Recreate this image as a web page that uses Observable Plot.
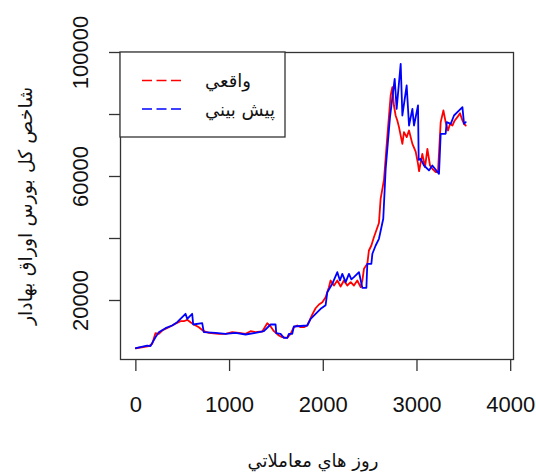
<!DOCTYPE html>
<html><head><meta charset="utf-8">
<script src="https://cdn.jsdelivr.net/npm/d3@7"></script>
<script src="https://cdn.jsdelivr.net/npm/@observablehq/plot@0.6"></script>
<style>
body{margin:0;background:#fff;}
svg{font-family:"Liberation Sans","DejaVu Sans",sans-serif;}
</style>
</head><body>
<div id="chart"></div>
<script>
// Actual (واقعي)
const actualDay = [0,138,174,209,245,281,352,423,476,512,548,583,619,672,725,779,885,957,1028,1099,1171,1224,1277,1349,1402,1438,1473,1526,1562,1616,1651,1686,1722,1758,1793,1829,1854,1883,1918,1954,1990,2025,2060,2078,2114,2150,2185,2220,2256,2292,2327,2363,2399,2417,2434,2470,2487,2513,2541,2559,2594,2612,2648,2684,2719,2737,2754,2772,2790,2808,2844,2861,2890,2915,2951,2986,3011,3022,3057,3086,3111,3139,3164,3200,3224,3253,3282,3306,3331,3353,3378,3403,3431,3459,3485,3502,3520];
const actualValue = [4600,5270,6030,9460,9250,10320,11390,12480,13320,13320,13770,13000,12260,11390,10100,9580,9250,9250,9780,9580,9250,10100,9780,10000,12680,11610,10100,8710,8160,7970,9250,11390,11940,11390,11390,11940,13550,15500,17500,18710,19460,21070,24300,26450,24840,26450,24520,26450,24840,25910,24840,26450,24300,26450,30230,31840,36130,37740,40500,42000,45000,52770,59000,73230,86130,88830,82910,79680,78070,75930,70520,74300,72700,74840,70520,68000,64070,61700,67300,63000,68930,63550,62490,61410,61410,77540,81300,77540,74840,77000,76450,78070,79150,80430,78070,77000,76450];
// Forecast (پيش بيني)
const forecastDay = [0,120,156,209,245,316,387,441,476,530,548,601,612,708,725,850,957,1064,1171,1277,1366,1438,1491,1498,1544,1580,1616,1633,1669,1686,1829,1865,1918,1972,2025,2043,2096,2150,2178,2203,2239,2274,2300,2327,2381,2417,2460,2470,2513,2524,2559,2594,2640,2666,2712,2762,2783,2826,2844,2890,2915,2951,2968,3011,3018,3039,3075,3128,3164,3235,3253,3306,3317,3360,3395,3431,3485,3502,3520];
const forecastValue = [4600,5480,5270,8160,9780,11070,11940,13000,14080,15710,14080,15710,12260,12680,9780,9580,9250,9580,9030,9580,10100,12260,12260,9460,9250,7970,7970,9250,9250,11610,11940,14080,15710,17320,18500,22680,25390,29130,26450,28610,25910,28610,26800,27520,29130,24090,24090,31840,31840,35070,37740,39900,46360,62490,79150,91520,81830,96360,79680,89360,76450,81830,76450,82910,65380,65700,63550,61940,63550,60860,73780,73780,77540,77000,79680,80750,82370,77000,77540];

const xTicks = [0,1000,2000,3000,4000];
const yTicks = [20000,40000,60000,80000,100000];
const yTickLabels = [20000,60000,100000];
const xTitle = "روز هاي معاملاتي";
const yTitle = "شاخص كل بورس اوراق بهادار";
const seriesNames = ["واقعي","پيش بيني"];
const seriesColors = ["#ff0000","#0000ff"];

const actual = actualDay.map((d,i)=>({day:d, value:actualValue[i]}));
const forecast = forecastDay.map((d,i)=>({day:d, value:forecastValue[i]}));

const chart = Plot.plot({
  width: 536, height: 472,
  marginLeft: 120, marginRight: 23, marginTop: 52, marginBottom: 113,
  x: {domain: [-164, 4030]},
  y: {domain: [968, 100000]},
  style: {fontFamily: '"Liberation Sans","DejaVu Sans",sans-serif', background: "#fff"},
  marks: [
    Plot.line(actual, {x:"day", y:"value", stroke: seriesColors[0], strokeWidth: 1.8}),
    Plot.line(forecast, {x:"day", y:"value", stroke: seriesColors[1], strokeWidth: 1.8}),
    Plot.frame({stroke: "#333", strokeWidth: 1.3}),
    Plot.axisX({ticks: xTicks, tickSize: 12, tickFormat: () => "", label: null, stroke: "#333", strokeWidth: 1.3}),
    Plot.axisY({ticks: yTicks, tickSize: 11, tickFormat: () => "", label: null, stroke: "#333", strokeWidth: 1.3}),
    Plot.text(xTicks, {x: d=>d, frameAnchor: "bottom", dy: 52, lineAnchor: "bottom", text: d=>String(d), fontSize: 22, fill: "#111"}),
    Plot.text(yTickLabels, {y: d=>d, frameAnchor: "left", dx: -33, rotate: -90, textAnchor: "middle", lineAnchor: "bottom", text: d=>String(d), fontSize: 22, fill: "#111"}),
    Plot.text([xTitle], {frameAnchor: "bottom", dy: 107, dx: -4, lineAnchor: "bottom", fontSize: 18, fill: "#111", fontFamily: "DejaVu Sans"}),
    Plot.text([yTitle], {frameAnchor: "left", dx: -95, rotate: -90, textAnchor: "middle", lineAnchor: "middle", fontSize: 19, fill: "#111", fontFamily: "DejaVu Sans"})
  ]
});
document.getElementById("chart").appendChild(chart);

// legend (R-style, top-left inside the box)
const svg = d3.select(chart);
const lg = svg.append("g");
lg.append("rect").attr("x",120).attr("y",52).attr("width",165).attr("height",85)
  .attr("fill","#fff").attr("stroke","#333").attr("stroke-width",1.3);
const rowsY = [80.5, 109];
const baseY = [87, 116];
seriesNames.forEach((name,i)=>{
  lg.append("line").attr("x1",142).attr("x2",181).attr("y1",rowsY[i]).attr("y2",rowsY[i])
    .attr("stroke",seriesColors[i]).attr("stroke-width",1.6).attr("stroke-dasharray","10,4.5");
  lg.append("text").attr("x",205).attr("y",baseY[i]).attr("font-size",18)
    .attr("font-family","DejaVu Sans").attr("fill","#111").attr("direction","ltr").attr("text-anchor","start").text(name);
});
</script>
</body></html>
